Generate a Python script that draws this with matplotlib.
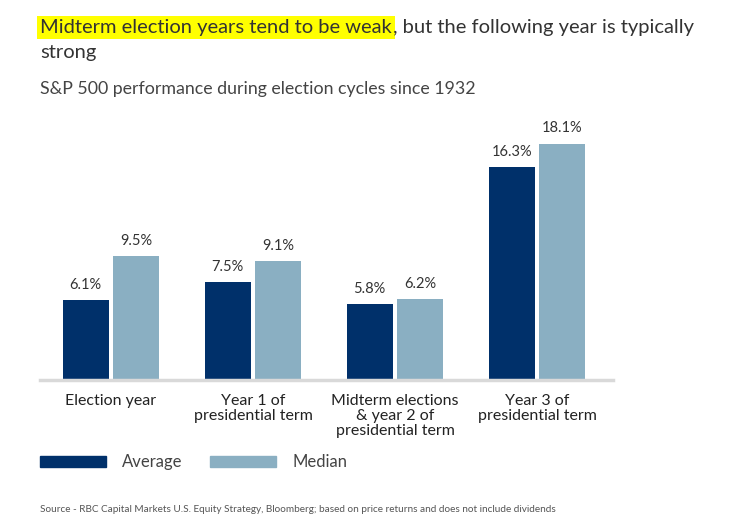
import matplotlib
matplotlib.use("Agg")
import matplotlib.pyplot as plt
import numpy as np

categories = ["Election year", "Year 1 of\npresidential term",
              "Midterm elections\n& year 2 of\npresidential term",
              "Year 3 of\npresidential term"]
average = [6.1, 7.5, 5.8, 16.3]
median = [9.5, 9.1, 6.2, 18.1]
series_names = ["Average", "Median"]

DARK = "#00306a"
LIGHT = "#8aafc2"
W, H = 733, 527

plt.rcParams['font.family'] = ['Lato', 'DejaVu Sans']

fig = plt.figure(figsize=(W / 100, H / 100), dpi=100)

def fx(px):
    return px / W

def fy(py):
    return 1 - py / H

ax = fig.add_axes([fx(40), fy(380), fx(613) - fx(40), fy(120) - fy(380)])
x = np.arange(len(categories))
bw = 0.324
off = 0.178
b1 = ax.bar(x - off, average, bw, color=DARK)
b2 = ax.bar(x + off, median, bw, color=LIGHT)
for bars, vals in ((b1, average), (b2, median)):
    for b, v in zip(bars, vals):
        ax.annotate(f"{v:.1f}%", (b.get_x() + b.get_width() / 2, v),
                    xytext=(0, 11), textcoords="offset points",
                    ha="center", va="center", fontsize=10.5, color="#333333")
ax.set_xlim(-0.5, 3.535)
ax.set_ylim(0, 19.9)
ax.set_yticks([])
ax.set_xticks(x)
ax.set_xticklabels(categories, fontsize=11.5, color="#222222", linespacing=1.1)
ax.tick_params(axis="x", length=0, pad=10)
for s in ("top", "left", "right"):
    ax.spines[s].set_visible(False)
ax.spines["bottom"].set_color("#d9d9d9")
ax.spines["bottom"].set_linewidth(2.5)

# title with highlight
t1 = fig.text(fx(40), fy(33), "Midterm election years tend to be weak",
              fontsize=14.5, color="#333333", va="baseline", ha="left",
              bbox=dict(facecolor="#ffff00", edgecolor="none", pad=2))
fig.canvas.draw()
bb = t1.get_window_extent()
fig.text(bb.x1 / W + fx(1), fy(33), ", but the following year is typically",
         fontsize=14.5, color="#333333", va="baseline", ha="left")
fig.text(fx(40), fy(58), "strong", fontsize=14.5, color="#333333",
         va="baseline", ha="left")
fig.text(fx(40), fy(94), "S&P 500 performance during election cycles since 1932",
         fontsize=12.8, color="#444444", va="baseline", ha="left")

# legend
from matplotlib.patches import Rectangle
fig.patches.append(Rectangle((fx(40), fy(467)), fx(66), fy(456) - fy(467),
                             transform=fig.transFigure, color=DARK))
fig.text(fx(122), fy(462), series_names[0], fontsize=12, color="#444444",
         va="center", ha="left")
fig.patches.append(Rectangle((fx(210), fy(467)), fx(66), fy(456) - fy(467),
                             transform=fig.transFigure, color=LIGHT))
fig.text(fx(292), fy(462), series_names[1], fontsize=12, color="#444444",
         va="center", ha="left")

fig.text(fx(40), fy(509),
         "Source - RBC Capital Markets U.S. Equity Strategy, Bloomberg; based on price returns and does not include dividends",
         fontsize=7.2, color="#555555", va="center", ha="left")

fig.savefig("out.png", dpi=100)
